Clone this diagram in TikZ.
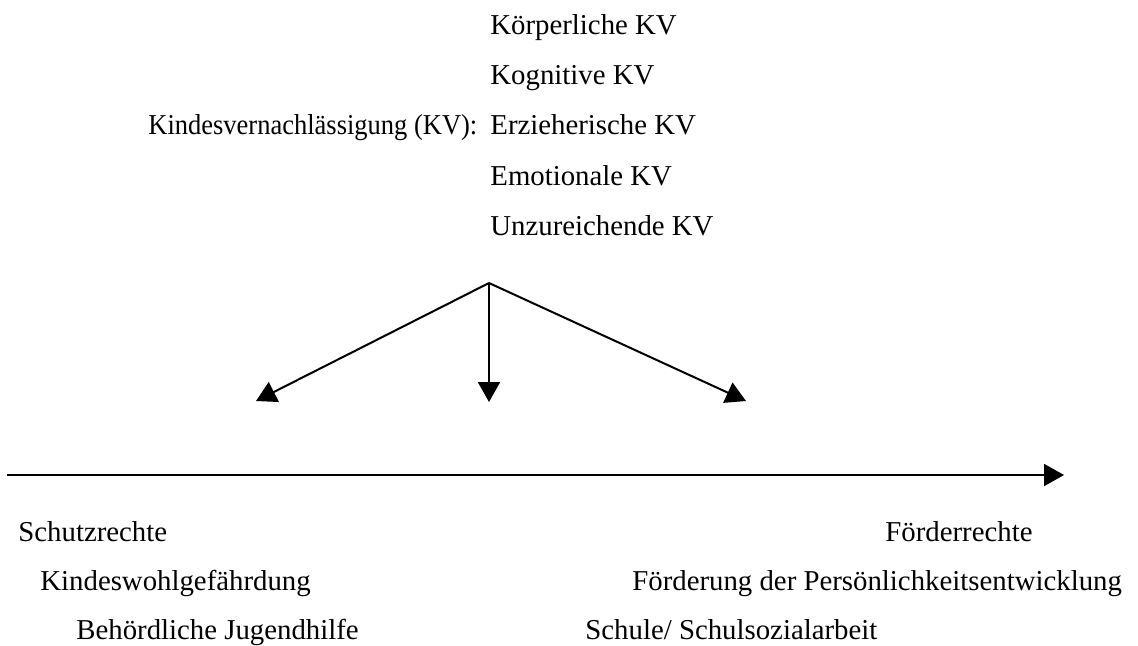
\documentclass[tikz,border=0pt]{standalone}
\usepackage{fontspec}
\setmainfont{Liberation Serif}
\usetikzlibrary{arrows.meta}
\tikzset{
  lbl/.style={anchor=base west, inner sep=0pt, font=\fontsize{14.4}{17}\selectfont},
  conn/.style={line width=1pt, -{Triangle[length=10pt,width=11pt]}}
}
\begin{document}
\begin{tikzpicture}[x=0.5pt,y=-0.5pt]
\useasboundingbox (0,0) rectangle (1138,645);
% top list
\node[lbl] (k1) at (490,34) {Körperliche KV};
\node[lbl] (k2) at (490,84) {Kognitive KV};
\node[lbl] (k3) at (490,134) {Erzieherische KV};
\node[lbl] (k4) at (490,185) {Emotionale KV};
\node[lbl] (k5) at (490,235) {Unzureichende KV};
\node[lbl] (kv) at (148,134) {\scalebox{0.92}[1]{Kindesvernachlässigung (KV):}};
% arrows
\coordinate (apex) at (489,283);
\coordinate (tl) at (256,401);
\coordinate (tm) at (489,402);
\coordinate (tr) at (746,401);
\draw[conn] (apex) -- (tl);
\draw[conn] (apex) -- (tm);
\draw[conn] (apex) -- (tr);
% axis
\coordinate (a0) at (7,475);
\coordinate (a1) at (1064,475);
\draw[conn] (a0) -- (a1);
% bottom texts
\node[lbl] (s1) at (18,541) {Schutzrechte};
\node[lbl] (s2) at (40,590) {Kindeswohlgefährdung};
\node[lbl] (s3) at (76,639) {Behördliche Jugendhilfe};
\node[lbl] (f1) at (885,541) {Förderrechte};
\node[lbl] (f2) at (632,590) {Förderung der Persönlichkeitsentwicklung};
\node[lbl] (f3) at (585,639) {Schule/ Schulsozialarbeit};
\end{tikzpicture}
\end{document}
